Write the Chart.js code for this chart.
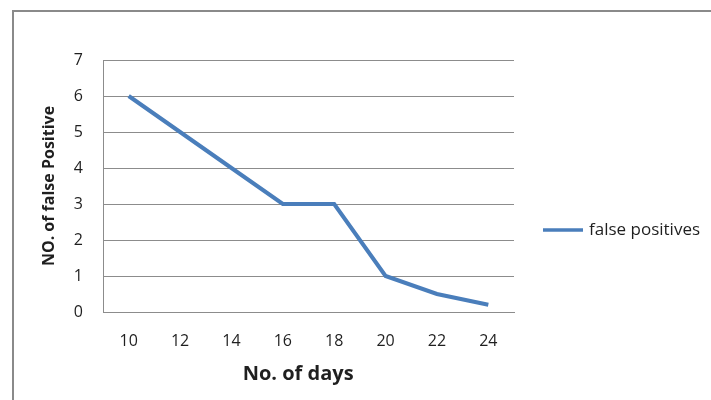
<!DOCTYPE html>
<html>
<head>
<meta charset="utf-8">
<script src="https://cdn.jsdelivr.net/npm/chart.js@4"></script>
<style>
  html, body { margin: 0; padding: 0; background: #fff; overflow: hidden; }
  #wrap { position: relative; width: 711px; height: 400px; }
  #frame { position: absolute; left: 12px; top: 10px; width: 800px; height: 500px;
           border: 2px solid #8a8a8a; box-sizing: border-box; pointer-events: none; }
</style>
</head>
<body>
<div id="wrap">
  <canvas id="chart" width="711" height="400"></canvas>
  <div id="frame"></div>
</div>
<script>
// data
const days = ["10", "12", "14", "16", "18", "20", "22", "24"];
const falsePositives = [6, 5, 4, 3, 3, 1, 0.5, 0.2];
const yTicks = [0, 1, 2, 3, 4, 5, 6, 7];

const FONT = "'Open Sans', 'DejaVu Sans', sans-serif";
const TEXT = "#1f1f1f";
const GRID = "#8c8c8c";

// excel style legend on the right, drawn from the dataset itself
const sideLegend = {
  id: "sideLegend",
  afterDraw(chart) {
    let ctx = chart.ctx;
    let area = chart.chartArea;
    let x = area.right + 29;
    let y = 230;
    chart.data.datasets.forEach((ds, i) => {
      let yy = y + i * 22;
      ctx.save();
      ctx.strokeStyle = ds.borderColor;
      ctx.lineWidth = 3.5;
      ctx.beginPath();
      ctx.moveTo(x, yy);
      ctx.lineTo(x + 40, yy);
      ctx.stroke();
      ctx.fillStyle = TEXT;
      ctx.font = "17px " + FONT;
      ctx.textBaseline = "middle";
      ctx.fillText(ds.label, x + 46, yy);
      ctx.restore();
    });
  }
};

let ctx = document.getElementById("chart").getContext("2d");
let chart = new Chart(ctx, {
  type: "line",
  data: {
    labels: days,
    datasets: [
      {
        label: "false positives",
        data: falsePositives,
        borderColor: "#4a7ebb",
        backgroundColor: "#4a7ebb",
        borderWidth: 4,
        pointRadius: 0,
        tension: 0,
        fill: false
      }
    ]
  },
  options: {
    responsive: false,
    animation: false,
    layout: { padding: { left: 36, top: 60, right: 197, bottom: 10 } },
    plugins: {
      legend: { display: false },
      tooltip: { enabled: false }
    },
    scales: {
      x: {
        offset: true,
        grid: { display: false, drawTicks: false },
        border: { display: true, color: GRID, width: 1 },
        ticks: { color: TEXT, font: { family: FONT, size: 16 }, padding: 20, maxRotation: 0 },
        title: {
          display: true,
          // trailing spaces nudge the centred title a little left, like excel
          text: "No. of days\u00a0\u00a0\u00a0\u00a0",
          color: TEXT,
          font: { family: FONT, size: 20, weight: "bold" },
          padding: { top: 4, bottom: 4 }
        },
        afterFit(scale) { scale.height = 78; }
      },
      y: {
        min: 0,
        max: 7,
        afterBuildTicks(scale) { scale.ticks = yTicks.map(v => ({ value: v })); },
        grid: { color: GRID, lineWidth: 1, drawTicks: false },
        border: { display: true, color: GRID, width: 1 },
        ticks: { color: TEXT, font: { family: FONT, size: 16 }, padding: 20 },
        title: {
          display: true,
          text: "NO. of false Positive",
          color: TEXT,
          font: { family: FONT, size: 16, weight: "bold" },
          padding: { top: 4, bottom: 4 }
        },
        afterFit(scale) { scale.width = 67; }
      }
    }
  },
  plugins: [sideLegend]
});
</script>
</body>
</html>
